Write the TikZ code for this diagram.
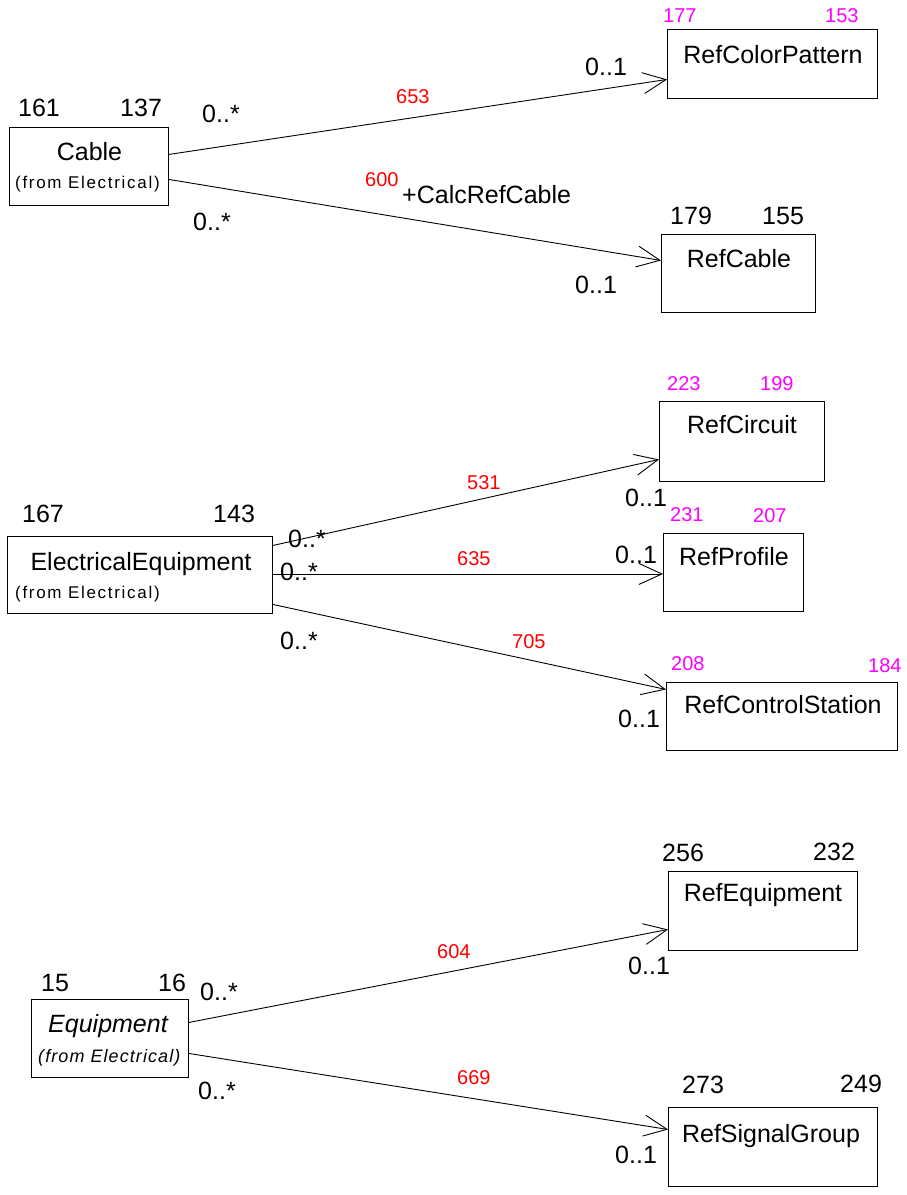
\documentclass[tikz,border=0pt]{standalone}
\usepackage{fontspec}
\setmainfont{Liberation Sans}
\usetikzlibrary{arrows.meta}
\definecolor{numred}{RGB}{255,0,0}
\definecolor{nummag}{RGB}{255,0,255}
\begin{document}
\begin{tikzpicture}[x=1pt,y=-1pt,
  box/.style={draw=black, line width=0.9pt, inner sep=0pt, anchor=north west},
  lbl/.style={inner sep=0pt, anchor=base west, font=\fontsize{25}{30}\selectfont},
  title/.style={inner sep=0pt, anchor=base, font=\fontsize{25}{30}\selectfont},
  ititle/.style={inner sep=0pt, anchor=base, font=\fontsize{25}{30}\selectfont\itshape},
  from/.style={inner sep=0pt, anchor=base west, font=\fontsize{17}{20}\selectfont\addfontfeature{LetterSpace=10}},
  ifrom/.style={inner sep=0pt, anchor=base west, font=\fontsize{18}{21}\selectfont\itshape\addfontfeature{LetterSpace=6}},
  red/.style={inner sep=0pt, anchor=base west, text=numred, font=\fontsize{20}{24}\selectfont},
  mag/.style={inner sep=0pt, anchor=base west, text=nummag, font=\fontsize{20}{24}\selectfont},
  assoc/.style={line width=0.9pt, -{Straight Barb[length=23pt,width=21pt]}}
]
\useasboundingbox (0,0) rectangle (906,1195);

% ---------- boxes ----------
\node[box, minimum width=159pt, minimum height=78pt] (cable) at (9,127) {};
\node[box, minimum width=210pt, minimum height=69pt] (rcp) at (667,29) {};
\node[box, minimum width=154pt, minimum height=78pt] (rcable) at (661,234) {};
\node[box, minimum width=165pt, minimum height=80pt] (rcirc) at (659,401) {};
\node[box, minimum width=140pt, minimum height=78pt] (rprof) at (663,533) {};
\node[box, minimum width=231pt, minimum height=68pt] (rcs) at (666,682) {};
\node[box, minimum width=265pt, minimum height=77pt] (ee) at (7,536) {};
\node[box, minimum width=189pt, minimum height=79pt] (requip) at (668,871) {};
\node[box, minimum width=157pt, minimum height=78pt] (equip) at (31,999) {};
\node[box, minimum width=209pt, minimum height=79pt] (rsg) at (668,1107) {};

% ---------- box texts ----------
\node[title] (tcable) at (89.5,160) {Cable};
\node[from] (fcable) at (15,188) {(from Electrical)};
\node[title] (trcp) at (773,63) {RefColorPattern};
\node[title] (trcable) at (739,267) {RefCable};
\node[title] (trcirc) at (742,433) {RefCircuit};
\node[title] (trprof) at (734,565) {RefProfile};
\node[title] (trcs) at (783,713) {RefControlStation};
\node[title] (tee) at (141,570) {ElectricalEquipment};
\node[from] (fee) at (15,598) {(from Electrical)};
\node[title] (trequip) at (763,901) {RefEquipment};
\node[ititle] (tequip) at (108,1032) {Equipment};
\node[ifrom] (fequip) at (38,1062) {(from Electrical)};
\node[title] (trsg) at (771,1142) {RefSignalGroup};

% ---------- numbers above boxes ----------
\node[lbl] (a1) at (18,116) {161};
\node[lbl] (a2) at (120,116) {137};
\node[mag] (a3) at (663,22) {177};
\node[mag] (a4) at (825,22) {153};
\node[lbl] (a5) at (670,224) {179};
\node[lbl] (a6) at (762,224) {155};
\node[mag] (a7) at (667,390) {223};
\node[mag] (a8) at (760,390) {199};
\node[mag] (a9) at (670,521) {231};
\node[mag] (a10) at (753,522) {207};
\node[lbl] (a11) at (22,522) {167};
\node[lbl] (a12) at (213,522) {143};
\node[mag] (a13) at (671,670) {208};
\node[mag] (a14) at (868,672) {184};
\node[lbl] (a15) at (662,861) {256};
\node[lbl] (a16) at (813,860) {232};
\node[lbl] (a17) at (41,991) {15};
\node[lbl] (a18) at (158,991) {16};
\node[lbl] (a19) at (682,1093) {273};
\node[lbl] (a20) at (840,1092) {249};

% ---------- associations ----------
\draw[assoc] ([yshift=12pt]cable.east) -- ([yshift=-15.5pt]rcp.west);
\draw[assoc] ([yshift=-13pt]cable.east) -- ([yshift=13pt]rcable.west);
\draw[assoc] ([yshift=29.5pt]ee.east) -- ([yshift=-18pt]rcirc.west);
\draw[assoc] ([yshift=1pt]ee.east) -- ([yshift=-1.5pt]rprof.west);
\draw[assoc] ([yshift=-29.5pt]ee.east) -- ([yshift=27pt]rcs.west);
\draw[assoc] ([yshift=16pt]equip.east) -- ([yshift=-18.5pt]requip.west);
\draw[assoc] ([yshift=-15pt]equip.east) -- ([yshift=17.5pt]rsg.west);

% ---------- association labels ----------
\node[red] (r1) at (396,103) {653};
\node[lbl] (m1) at (202,122) {0..*};
\node[lbl] (m2) at (585,75) {0..1};

\node[red] (r2) at (365,186) {600};
\node[lbl] (role) at (402,203) {+CalcRefCable};
\node[lbl] (m3) at (193,230) {0..*};
\node[lbl] (m4) at (575,293) {0..1};

\node[red] (r3) at (467,489) {531};
\node[lbl] (m5) at (288,547) {0..*};
\node[lbl] (m6) at (625,506) {0..1};

\node[red] (r4) at (457,565) {635};
\node[lbl] (m7) at (280,580) {0..*};
\node[lbl] (m8) at (615,563) {0..1};

\node[red] (r5) at (512,648) {705};
\node[lbl] (m9) at (280,649) {0..*};
\node[lbl] (m10) at (618,727) {0..1};

\node[red] (r6) at (437,958) {604};
\node[lbl] (m11) at (200,1000) {0..*};
\node[lbl] (m12) at (628,974) {0..1};

\node[red] (r7) at (457,1084) {669};
\node[lbl] (m13) at (198,1099) {0..*};
\node[lbl] (m14) at (615,1163) {0..1};
\end{tikzpicture}
\end{document}
